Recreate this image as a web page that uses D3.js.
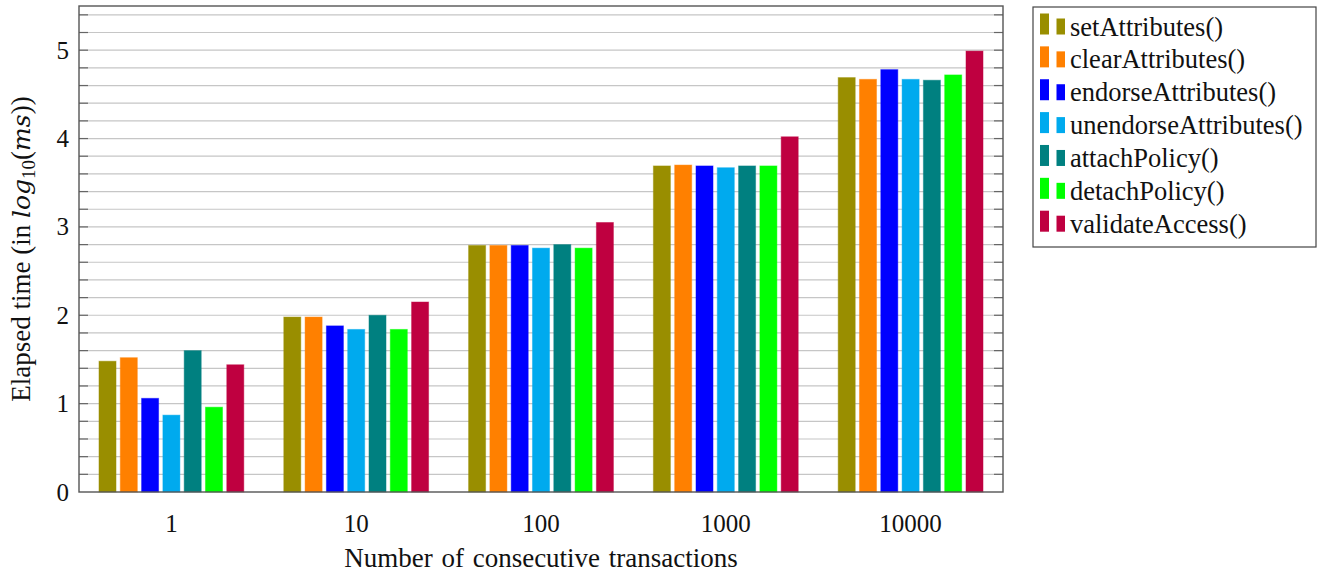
<!DOCTYPE html>
<html>
<head>
<meta charset="utf-8">
<script src="https://cdn.jsdelivr.net/npm/d3@7/dist/d3.min.js"></script>
<style>
  html, body { margin: 0; padding: 0; background: #fff; }
  svg { display: block; }
  text { font-family: "Liberation Serif", "DejaVu Serif", serif; fill: #111; }
</style>
</head>
<body>
<svg id="chart" width="1318" height="574"></svg>
<script>
// Transaction counts (x categories) and y ticks
const groups = ["1", "10", "100", "1000", "10000"];
const yTickLabels = [0, 1, 2, 3, 4, 5];

// Function names and their colours
const seriesNames = ["setAttributes()", "clearAttributes()", "endorseAttributes()",
  "unendorseAttributes()", "attachPolicy()", "detachPolicy()", "validateAccess()"];
const seriesColors = ["#998e00", "#ff8000", "#0000ff", "#00aaee", "#008080", "#00ff00", "#bf0040"];

// Elapsed time, log10(ms), one value per transaction count
const setAttributesVals      = [1.48, 1.98, 2.79, 3.69, 4.69];
const clearAttributesVals    = [1.52, 1.98, 2.79, 3.70, 4.67];
const endorseAttributesVals  = [1.06, 1.88, 2.79, 3.69, 4.78];
const unendorseAttributesVals = [0.87, 1.84, 2.76, 3.67, 4.67];
const attachPolicyVals       = [1.60, 2.00, 2.80, 3.69, 4.66];
const detachPolicyVals       = [0.96, 1.84, 2.76, 3.69, 4.72];
const validateAccessVals     = [1.44, 2.15, 3.05, 4.02, 4.99];

const seriesValues = [setAttributesVals, clearAttributesVals, endorseAttributesVals,
  unendorseAttributesVals, attachPolicyVals, detachPolicyVals, validateAccessVals];

const svg = d3.select("#chart");
const plotLeft = 79, plotRight = 1003, plotTop = 6, plotBottom = 492;

const x = d3.scaleBand().domain(groups).range([plotLeft, plotRight]).padding(0);
const y = d3.scaleLinear().domain([0, 5.5]).range([plotBottom, plotTop]);

// Inner scale placing the seven bars inside each group
const halfSpan = 74.55;
const xs = d3.scaleBand().domain(seriesNames).range([-halfSpan, halfSpan])
  .paddingInner(0.2).paddingOuter(0.1);

// Grid lines every 0.2
const gridVals = d3.range(0, 28).map(i => +(i * 0.2).toFixed(1)).filter(v => v > 0 && v <= 5.5);
svg.append("g")
  .selectAll("line").data(gridVals).join("line")
  .attr("x1", plotLeft).attr("x2", plotRight)
  .attr("y1", d => y(d)).attr("y2", d => y(d))
  .attr("stroke", "#c6c6c6").attr("stroke-width", 1.2);

// Bars
const gBars = svg.append("g");
seriesNames.forEach((name, si) => {
  gBars.append("g")
    .selectAll("rect").data(seriesValues[si]).join("rect")
    .attr("x", (d, gi) => x(groups[gi]) + x.bandwidth() / 2 + xs(name))
    .attr("width", xs.bandwidth())
    .attr("y", d => y(d))
    .attr("height", d => y(0) - y(d))
    .attr("fill", seriesColors[si])
    .attr("stroke", seriesColors[si])
    .attr("stroke-opacity", 0.45)
    .attr("stroke-width", 1);
});

// Tick marks on left and right sides (inside)
const tickLen = 9;
const gTicks = svg.append("g").attr("stroke", "#666").attr("stroke-width", 1.2);
gTicks.selectAll("line.l").data(gridVals).join("line").attr("class", "l")
  .attr("x1", plotLeft).attr("x2", plotLeft + tickLen)
  .attr("y1", d => y(d)).attr("y2", d => y(d));
gTicks.selectAll("line.r").data(gridVals).join("line").attr("class", "r")
  .attr("x1", plotRight - tickLen).attr("x2", plotRight)
  .attr("y1", d => y(d)).attr("y2", d => y(d));

// Frame
svg.append("rect")
  .attr("x", plotLeft).attr("y", plotTop)
  .attr("width", plotRight - plotLeft).attr("height", plotBottom - plotTop)
  .attr("fill", "none").attr("stroke", "#555").attr("stroke-width", 1.4);

// Y tick labels
svg.append("g").selectAll("text").data(yTickLabels).join("text")
  .attr("x", plotLeft - 10).attr("y", d => y(d)).attr("dy", "0.34em")
  .attr("text-anchor", "end").attr("font-size", 25)
  .text(d => d);

// X tick labels
svg.append("g").selectAll("text").data(groups).join("text")
  .attr("x", d => x(d) + x.bandwidth() / 2).attr("y", 531.5)
  .attr("text-anchor", "middle").attr("font-size", 25)
  .text(d => d);

// X axis title
svg.append("text")
  .attr("x", (plotLeft + plotRight) / 2).attr("y", 567)
  .attr("text-anchor", "middle").attr("font-size", 27)
  .attr("word-spacing", 2)
  .text("Number of consecutive transactions");

// Y axis title with math notation
const mathFont = "DejaVu Serif";
const yt = svg.append("text")
  .attr("transform", `translate(30, ${(plotTop + plotBottom) / 2}) rotate(-90)`)
  .attr("text-anchor", "middle").attr("font-size", 27);
yt.append("tspan").text("Elapsed time (in ");
yt.append("tspan").attr("font-family", mathFont).attr("font-style", "italic").attr("font-size", 25).text("log");
yt.append("tspan").attr("font-size", 19).attr("dy", 5).text("10");
yt.append("tspan").attr("dy", -5).text("(");
yt.append("tspan").attr("font-family", mathFont).attr("font-style", "italic").attr("font-size", 25).text("ms");
yt.append("tspan").text("))");

// Legend
const lg = svg.append("g");
lg.append("rect")
  .attr("x", 1033).attr("y", 7).attr("width", 283).attr("height", 240)
  .attr("fill", "#fff").attr("stroke", "#444").attr("stroke-width", 1.2);
const rowY = d3.scaleLinear().domain([0, 6]).range([34.5, 231.7]);
seriesNames.forEach((name, i) => {
  const by = rowY(i);
  lg.append("rect").attr("x", 1040).attr("y", by - 21).attr("width", 9).attr("height", 21)
    .attr("fill", seriesColors[i]);
  lg.append("rect").attr("x", 1056.5).attr("y", by - 16).attr("width", 8.5).attr("height", 16)
    .attr("fill", seriesColors[i]);
  lg.append("text").attr("x", 1070).attr("y", by + 1).attr("font-size", 26.5).text(name);
});
</script>
</body>
</html>
